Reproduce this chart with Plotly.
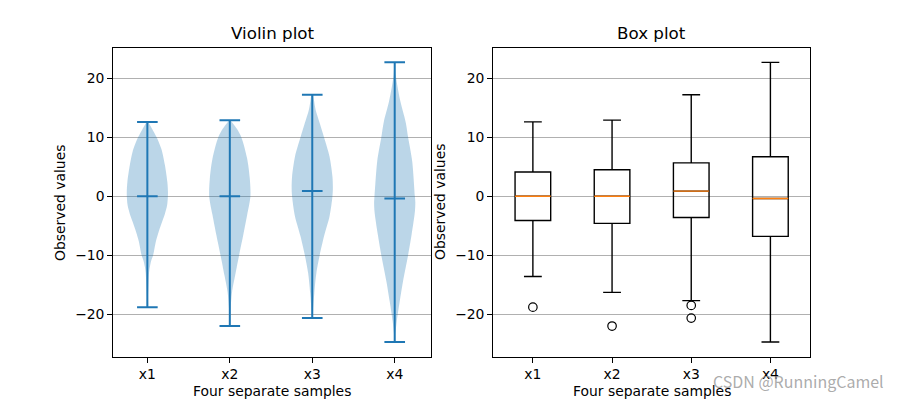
import plotly.graph_objects as go

labels = ["x1", "x2", "x3", "x4"]
positions = [1, 2, 3, 4]
yticks = [-20, -10, 0, 10, 20]

# violin density profiles (value, relative width; max = 1)
v1_y = [12.6, 11.5, 10, 8, 5.3, 2.4, 0.5, -1.5, -3, -4.3, -6, -7.7, -10, -11, -12, -13, -15, -17, -18.8]
v1_w = [0.04, 0.22, 0.45, 0.68, 0.85, 0.97, 1.0, 0.96, 0.85, 0.72, 0.55, 0.41, 0.28, 0.18, 0.12, 0.08, 0.05, 0.03, 0.02]
v2_y = [12.9, 11.4, 10, 6.4, 3, 0, -3.2, -6.6, -10, -13.4, -16.2, -19, -22.0]
v2_w = [0.03, 0.35, 0.56, 0.84, 0.97, 1.0, 0.84, 0.65, 0.45, 0.26, 0.11, 0.04, 0.01]
v3_y = [17.2, 14.7, 12.4, 10, 6.7, 3.3, 1.5, 0, -3.4, -6.8, -10, -13, -16.4, -19.3, -20.65]
v3_w = [0.05, 0.16, 0.36, 0.57, 0.84, 0.98, 1.0, 0.98, 0.84, 0.57, 0.36, 0.2, 0.1, 0.04, 0.02]
v4_y = [22.7, 20.6, 16, 12.6, 10, 5.9, 0, -1, -2.6, -6.5, -10, -14.5, -17.9, -21.2, -23.5, -24.7]
v4_w = [0.03, 0.05, 0.28, 0.53, 0.65, 0.85, 0.98, 1.0, 0.98, 0.82, 0.65, 0.4, 0.24, 0.1, 0.03, 0.02]
violin_y = [v1_y, v2_y, v3_y, v4_y]
violin_w = [v1_w, v2_w, v3_w, v4_w]

mins = [-18.8, -22.0, -20.65, -24.7]
maxs = [12.6, 12.9, 17.2, 22.7]
medians = [0.0, 0.0, 0.87, -0.37]

q1 = [-4.1, -4.6, -3.6, -6.8]
q3 = [4.1, 4.5, 5.65, 6.7]
low_whisker = [-13.6, -16.3, -17.7, -24.7]
high_whisker = [12.6, 12.9, 17.2, 22.7]
outlier_x = [1, 2, 3, 3]
outlier_y = [-18.8, -22.0, -18.5, -20.65]

C0 = "#1f77b4"
FONT = "DejaVu Sans"
VHALF = 0.25
CAP = 0.125
BOXW = 0.45

fig = go.Figure()

# ---- violins ----
for p, ys, ws in zip(positions, violin_y, violin_w):
    xs = [p + VHALF * w for w in ws] + [p - VHALF * w for w in reversed(ws)]
    yy = list(ys) + list(reversed(ys))
    fig.add_trace(go.Scatter(x=xs, y=yy, mode="lines", fill="toself",
                             fillcolor="rgba(31,119,180,0.3)",
                             line=dict(width=0, shape="spline", smoothing=0.8),
                             hoverinfo="skip", showlegend=False,
                             xaxis="x", yaxis="y"))

lx, ly = [], []
for p, lo, hi, med in zip(positions, mins, maxs, medians):
    lx += [p, p, None, p - CAP, p + CAP, None, p - CAP, p + CAP, None, p - CAP, p + CAP, None]
    ly += [lo, hi, None, lo, lo, None, hi, hi, None, med, med, None]
fig.add_trace(go.Scatter(x=lx, y=ly, mode="lines", line=dict(color=C0, width=2),
                         showlegend=False, hoverinfo="skip", xaxis="x", yaxis="y"))

# ---- box plot ----
fig.add_trace(go.Box(x=positions, q1=q1, median=medians, q3=q3,
                     lowerfence=low_whisker, upperfence=high_whisker,
                     width=BOXW, whiskerwidth=0.5, boxpoints=False,
                     fillcolor="rgba(0,0,0,0)", line=dict(color="black", width=1.4),
                     showlegend=False, xaxis="x2", yaxis="y2"))
mx, my = [], []
for p, med in zip(positions, medians):
    mx += [p - BOXW / 2, p + BOXW / 2, None]
    my += [med, med, None]
fig.add_trace(go.Scatter(x=mx, y=my, mode="lines", line=dict(color="#ff7f0e", width=1.4),
                         showlegend=False, hoverinfo="skip", xaxis="x2", yaxis="y2"))
fig.add_trace(go.Scatter(x=outlier_x, y=outlier_y, mode="markers",
                         marker=dict(symbol="circle-open", size=8.5, color="black",
                                     line=dict(width=1.2, color="black")),
                         showlegend=False, hoverinfo="skip", xaxis="x2", yaxis="y2"))

ydom = [0.10825, 0.87925]
axis_common = dict(showline=True, linecolor="black", linewidth=1.1, mirror=True,
                   ticks="outside", ticklen=5, tickwidth=1.1, tickcolor="black",
                   automargin=False,
                   tickfont=dict(family=FONT, size=13.9, color="black"), zeroline=False)
yaxis_common = dict(axis_common, range=[-27.2, 25.08], tickvals=yticks,
                    showgrid=True, gridcolor="#b0b0b0", gridwidth=1.1)
xaxis_common = dict(axis_common, tickvals=positions, ticktext=labels, showgrid=False)

fig.update_layout(
    width=900, height=400, margin=dict(l=0, r=0, t=0, b=0, autoexpand=False),
    plot_bgcolor="white", paper_bgcolor="white",
    xaxis=dict(xaxis_common, domain=[0.1259, 0.4786], range=[0.587, 4.437], anchor="y"),
    yaxis=dict(yaxis_common, domain=ydom, anchor="x"),
    xaxis2=dict(xaxis_common, domain=[0.5481, 0.9], range=[0.5, 4.5], anchor="y2"),
    yaxis2=dict(yaxis_common, domain=ydom, anchor="x2"),
)

ann = []
for (x0, x1), title in [((0.1259, 0.4786), "Violin plot"), ((0.5481, 0.9), "Box plot")]:
    cx = (x0 + x1) / 2
    ann.append(dict(x=cx, y=ydom[1], xref="paper", yref="paper", text=title,
                    showarrow=False, xanchor="center", yanchor="bottom", yshift=3,
                    font=dict(family=FONT, size=16.7, color="black")))
    ann.append(dict(x=cx, y=0, xref="paper", yref="paper", text="Four separate samples",
                    showarrow=False, xanchor="center", yanchor="middle", yshift=9,
                    font=dict(family=FONT, size=13.9, color="black")))
for px in [59.5, 439.5]:
    ann.append(dict(x=px / 900, y=(ydom[0] + ydom[1]) / 2, xref="paper", yref="paper",
                    text="Observed values", textangle=-90, showarrow=False,
                    xanchor="center", yanchor="middle",
                    font=dict(family=FONT, size=13.9, color="black")))
ann.append(dict(x=886 / 900, y=1 - 381 / 400, xref="paper", yref="paper",
                text="CSDN @RunningCamel", showarrow=False, xanchor="right", yanchor="middle",
                font=dict(family="Noto Sans CJK SC", size=16, color="rgba(150,150,150,0.8)")))
fig.update_layout(annotations=ann)

fig.write_html("out.html", config={"displayModeBar": False},
               post_script="document.body.style.margin='0';document.body.style.overflow='hidden';")
